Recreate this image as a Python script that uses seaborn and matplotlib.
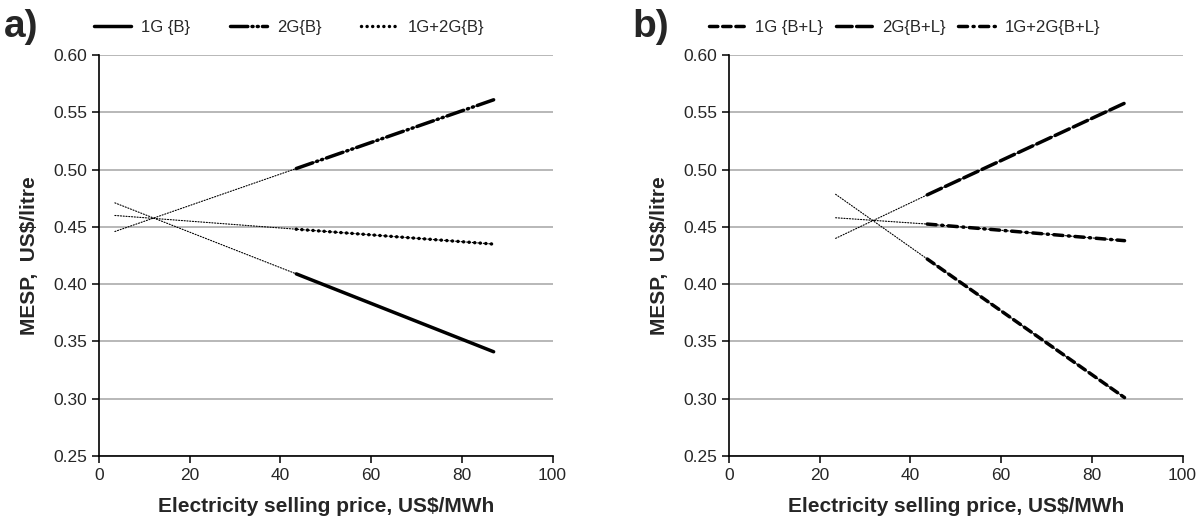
"""
MESP vs precio de venta de electricidad, escenarios {B} y {B+L}.
"""

import matplotlib
matplotlib.use("Agg")
import matplotlib.pyplot as plt
import pandas as pd
import seaborn as sns

# Datos (tramo grueso = datos, tramo fino = tendencia)
ELEC_A = [43.5, 87.0]
MESP_1G_A = [0.409, 0.341]
MESP_2G_A = [0.501, 0.561]
MESP_1G2G_A = [0.448, 0.435]
TREND_START_A = 3.5
TREND_1G_A = 0.471
TREND_2G_A = 0.446
TREND_1G2G_A = 0.460

ELEC_B = [43.7, 87.2]
MESP_1G_B = [0.422, 0.301]
MESP_2G_B = [0.478, 0.558]
MESP_1G2G_B = [0.4525, 0.438]
TREND_START_B = 23.5
TREND_1G_B = 0.4785
TREND_2G_B = 0.440
TREND_1G2G_B = 0.458

LABELS_A = ["1G {B}", "2G{B}", "1G+2G{B}"]
LABELS_B = ["1G {B+L}", "2G{B+L}", "1G+2G{B+L}"]

X_TICKS = [0, 20, 40, 60, 80, 100]
Y_TICKS = [0.25, 0.30, 0.35, 0.40, 0.45, 0.50, 0.55, 0.60]

sns.set_style("ticks")
plt.rcParams["font.family"] = ["Liberation Sans", "DejaVu Sans"]
plt.rcParams["lines.dash_capstyle"] = "round"


def build_frames(elec, series, trend_start, trend_vals, labels):
    rows, trows = [], []
    for lab, vals, t0 in zip(labels, series, trend_vals):
        for x, y in zip(elec, vals):
            rows.append({"price": x, "mesp": y, "serie": lab})
        for x, y in zip([trend_start, elec[0], elec[-1]], [t0, vals[0], vals[-1]]):
            trows.append({"price": x, "mesp": y, "serie": lab})
    return pd.DataFrame(rows), pd.DataFrame(trows)


def draw_panel(ax, df, trend, labels, dashes, leg_x, colsp):
    sns.lineplot(data=trend, x="price", y="mesp", units="serie", estimator=None,
                 color="black", lw=0.8, ls=(0, (1, 1.5)), legend=False, ax=ax)
    sns.lineplot(data=df, x="price", y="mesp", hue="serie", style="serie",
                 hue_order=labels, style_order=labels,
                 palette=["black"] * 3, dashes=dashes, lw=2.5, ax=ax)
    ax.set_xlim(0, 100)
    ax.set_ylim(0.25, 0.60)
    ax.set_xticks(X_TICKS)
    ax.set_yticks(Y_TICKS)
    ax.set_yticklabels([f"{v:.2f}" for v in Y_TICKS])
    ax.tick_params(labelsize=12.5, length=5, width=1.1, color="black")
    ax.grid(True, axis="y", color="#b8b8b8", lw=1.4)
    ax.set_axisbelow(True)
    for s in ["left", "bottom"]:
        ax.spines[s].set_color("black")
        ax.spines[s].set_linewidth(1.2)
    sns.despine(ax=ax)
    ax.set_xlabel("Electricity selling price, US$/MWh", fontsize=15,
                  fontweight="bold", labelpad=10)
    ax.set_ylabel("MESP,  US$/litre", fontsize=15, fontweight="bold", labelpad=10)
    ax.legend(loc="center left", bbox_to_anchor=(leg_x, 1.07), ncol=3, frameon=False,
              fontsize=12, handlelength=2.2, handletextpad=0.6,
              columnspacing=colsp, borderpad=0, borderaxespad=0)


fig = plt.figure(figsize=(12, 5.24), dpi=100)
ax_a = fig.add_axes([0.0825, 0.1298, 0.378, 0.765])
ax_b = fig.add_axes([0.6075, 0.1298, 0.378, 0.765])

df_a, tr_a = build_frames(ELEC_A, [MESP_1G_A, MESP_2G_A, MESP_1G2G_A],
                          TREND_START_A, [TREND_1G_A, TREND_2G_A, TREND_1G2G_A], LABELS_A)
df_b, tr_b = build_frames(ELEC_B, [MESP_1G_B, MESP_2G_B, MESP_1G2G_B],
                          TREND_START_B, [TREND_1G_B, TREND_2G_B, TREND_1G2G_B], LABELS_B)

dashes_a = {LABELS_A[0]: "", LABELS_A[1]: (5, 1.2, 0.3, 1.2, 0.3, 1.2),
            LABELS_A[2]: (0.01, 1.6)}
dashes_b = {LABELS_B[0]: (2.4, 1.4), LABELS_B[1]: (4.5, 1.3),
            LABELS_B[2]: (2.6, 1.6, 0.3, 1.6)}

draw_panel(ax_a, df_a, tr_a, LABELS_A, dashes_a, -0.01, 2.4)
draw_panel(ax_b, df_b, tr_b, LABELS_B, dashes_b, -0.045, 0.75)

fig.text(0.003, 0.93, "a)", fontsize=28, fontweight="bold")
fig.text(0.527, 0.93, "b)", fontsize=28, fontweight="bold")

fig.savefig("out.png", dpi=100)
plt.close(fig)
